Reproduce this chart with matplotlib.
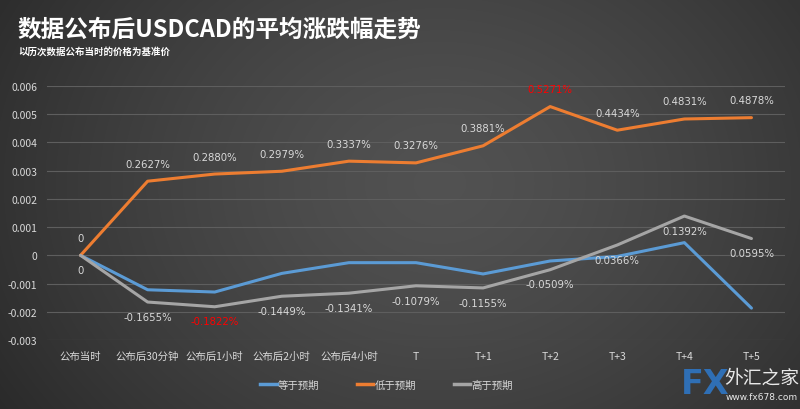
import numpy as np
import matplotlib
matplotlib.use("Agg")
import matplotlib.pyplot as plt
from matplotlib.lines import Line2D

plt.rcParams['font.family'] = ['Noto Sans CJK SC', 'DejaVu Sans']

categories = ["公布当时", "公布后30分钟", "公布后1小时", "公布后2小时", "公布后4小时",
              "T", "T+1", "T+2", "T+3", "T+4", "T+5"]
equal_exp = [0, -0.00122, -0.00130, -0.00064, -0.00026, -0.00026, -0.00066, -0.00020, -0.00004, 0.00045, -0.00187]
below_exp = [0, 0.002627, 0.002880, 0.002979, 0.003337, 0.003276, 0.003881, 0.005271, 0.004434, 0.004831, 0.004878]
above_exp = [0, -0.001655, -0.001822, -0.001449, -0.001341, -0.001079, -0.001155, -0.000509, 0.000366, 0.001392, 0.000595]
series_names = ["等于预期", "低于预期", "高于预期"]
yticks = [-0.003, -0.002, -0.001, 0, 0.001, 0.002, 0.003, 0.004, 0.005, 0.006]
ytick_labels = ["-0.003", "-0.002", "-0.001", "0", "0.001", "0.002", "0.003", "0.004", "0.005", "0.006"]

colors = {"等于预期": "#5B9BD5", "低于预期": "#ED7D31", "高于预期": "#A5A5A5"}
txt = "#d9d9d9"

fig = plt.figure(figsize=(8, 4.1), dpi=100)

# background gradient
bg = fig.add_axes([0, 0, 1, 1], zorder=-10)
W, H = 800, 410
xx, yy = np.meshgrid(np.linspace(0, 1, W), np.linspace(0, 1, H))
d = np.sqrt(((xx - 0.55) / 0.7) ** 2 + ((yy - 0.55) / 1.1) ** 2)
v = 0.32 - 0.17 * np.clip(d, 0, 1) ** 1.4
img = np.dstack([v, v, v])
bg.imshow(img, aspect='auto', extent=[0, 1, 0, 1], origin='lower')
bg.axis('off')

ax = fig.add_axes([47 / 800, 69 / 410, 738 / 800, 254 / 410])
ax.set_facecolor('none')
x = np.arange(len(categories))

ax.plot(x, equal_exp, color=colors["等于预期"], lw=2.2, solid_capstyle='round', zorder=3)
ax.plot(x, below_exp, color=colors["低于预期"], lw=2.2, solid_capstyle='round', zorder=3)
ax.plot(x, above_exp, color=colors["高于预期"], lw=2.2, solid_capstyle='round', zorder=3)

ax.set_xlim(-0.5, len(categories) - 0.5)
ax.set_ylim(-0.003, 0.006)
ax.set_yticks(yticks)
ax.set_yticklabels(ytick_labels)
ax.set_xticks(x)
ax.set_xticklabels(categories)
ax.tick_params(axis='both', length=0, colors=txt, labelsize=7.5)
ax.tick_params(axis='y', pad=7)
ax.tick_params(axis='x', pad=8)
for s in ax.spines.values():
    s.set_visible(False)
ax.grid(axis='y', color='#5e5e5e', lw=0.8)
ax.set_axisbelow(True)

def pct(v):
    return "0" if v == 0 else f"{v * 100:.4f}%"

for i, v in enumerate(below_exp):
    c = 'red' if i == 7 else txt
    ax.annotate(pct(v), (i, v), xytext=(0, 9), textcoords='offset points',
                ha='center', va='bottom', fontsize=7.3, color=c, family='DejaVu Sans')
for i, v in enumerate(above_exp):
    c = 'red' if i == 2 else txt
    ax.annotate(pct(v), (i, v), xytext=(0, -7), textcoords='offset points',
                ha='center', va='top', fontsize=7.3, color=c, family='DejaVu Sans')

# titles
fig.text(17 / 800, 1 - 30 / 410, "数据公布后USDCAD的平均涨跌幅走势", fontsize=17,
         fontweight='bold', color='white', va='center', ha='left')
fig.text(18 / 800, 1 - 52 / 410, "以历次数据公布当时的价格为基准价", fontsize=6.8,
         fontweight='bold', color='white', va='center', ha='left')

handles = [Line2D([0], [0], color=colors[n], lw=2.5) for n in series_names]
leg = fig.legend(handles, series_names, loc='center', bbox_to_anchor=(0.483, 1 - 386 / 410),
                 ncol=3, frameon=False, fontsize=7.5, labelcolor=txt, columnspacing=3.6,
                 handlelength=1.6, handletextpad=0.1)

# watermark
fig.text(705 / 800, 1 - 385 / 410, "FX", fontsize=24, fontweight='bold', color='#2f6fb5',
         va='center', ha='center', family='DejaVu Sans')
fig.text(762 / 800, 1 - 378 / 410, "外汇之家", fontsize=13.5, color='#e8e8e8',
         va='center', ha='center')
fig.text(762 / 800, 1 - 398 / 410, "www.fx678.com", fontsize=6.5, color='#e8e8e8',
         va='center', ha='center', family='DejaVu Sans')

fig.savefig("out.png", dpi=100)
